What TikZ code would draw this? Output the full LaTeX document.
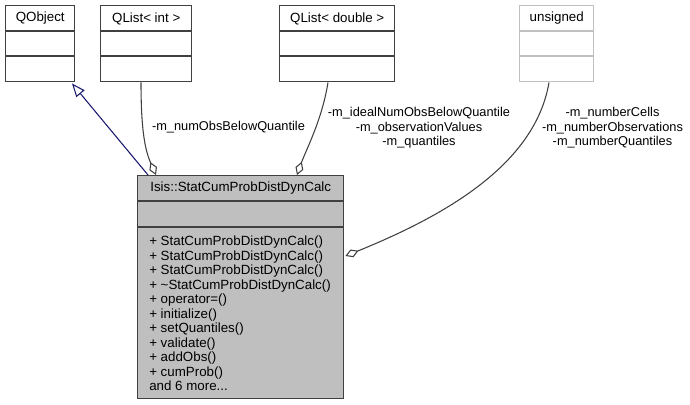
\documentclass[tikz,border=0pt]{standalone}
\usepackage{fontspec}
\setmainfont{Liberation Sans}
\usetikzlibrary{arrows.meta,calc}
\definecolor{edgegray}{HTML}{404040}
\definecolor{mainfill}{HTML}{BFBFBF}
\definecolor{navyedge}{HTML}{191970}
\definecolor{lightborder}{HTML}{C0C0C0}
\tikzset{
  classbox/.style={draw=edgegray, line width=1.1pt, inner sep=0pt, anchor=north west},
  divider/.style={draw=edgegray, line width=1.1pt},
  boxtext/.style={inner sep=0pt, font=\fontsize{10}{12}\selectfont},
  edgelabel/.style={inner sep=0pt, align=center, font=\fontsize{9.6}{10.9}\selectfont},
  inherit/.style={draw=navyedge, line width=0.8pt, -{Triangle[open, length=10pt, width=8pt, fill=white]}},
  member/.style={draw=edgegray, line width=0.8pt, -{Diamond[open, length=10.5pt, width=6.2pt, fill=white]}}
}
\begin{document}
\begin{tikzpicture}[x=0.75pt,y=-0.75pt]
\useasboundingbox (0,0) rectangle (690,404);

% QObject
\node[classbox, minimum width=51.75pt, minimum height=57pt] (qobject) at (5,5) {};
\draw[divider] ($(qobject.north west)+(0,26)$) -- ($(qobject.north east)+(0,26)$);
\draw[divider] ($(qobject.north west)+(0,51)$) -- ($(qobject.north east)+(0,51)$);
\node[boxtext] (qobject-title) at ($(qobject.north)+(0,13.5)$) {QObject};

% QList< int >
\node[classbox, minimum width=68.25pt, minimum height=57pt] (qlistint) at (100,5) {};
\draw[divider] ($(qlistint.north west)+(0,26)$) -- ($(qlistint.north east)+(0,26)$);
\draw[divider] ($(qlistint.north west)+(0,51)$) -- ($(qlistint.north east)+(0,51)$);
\node[boxtext] (qlistint-title) at ($(qlistint.north)+(0,13.5)$) {QList< int >};

% QList< double >
\node[classbox, minimum width=86.25pt, minimum height=57pt] (qlistdouble) at (279,5) {};
\draw[divider] ($(qlistdouble.north west)+(0,26)$) -- ($(qlistdouble.north east)+(0,26)$);
\draw[divider] ($(qlistdouble.north west)+(0,51)$) -- ($(qlistdouble.north east)+(0,51)$);
\node[boxtext] (qlistdouble-title) at ($(qlistdouble.north)+(0,13.5)$) {QList< double >};

% unsigned
\node[classbox, draw=lightborder, minimum width=55.5pt, minimum height=57pt] (unsigned) at (519,5) {};
\draw[divider, draw=lightborder] ($(unsigned.north west)+(0,26)$) -- ($(unsigned.north east)+(0,26)$);
\draw[divider, draw=lightborder] ($(unsigned.north west)+(0,51)$) -- ($(unsigned.north east)+(0,51)$);
\node[boxtext] (unsigned-title) at ($(unsigned.north)+(0,13.5)$) {unsigned};

% main class
\node[classbox, fill=mainfill, minimum width=154.5pt, minimum height=167.25pt] (main) at (137,175) {};
\draw[divider] ($(main.north west)+(0,26)$) -- ($(main.north east)+(0,26)$);
\draw[divider] ($(main.north west)+(0,52)$) -- ($(main.north east)+(0,52)$);
\node[boxtext] (main-title) at ($(main.north)+(0,13.5)$) {Isis::StatCumProbDistDynCalc};
\node[boxtext, anchor=west, align=left, font=\fontsize{10}{10.9}\selectfont] (main-methods) at ($(main.north west)+(12,138.5)$) {%
+ StatCumProbDistDynCalc()\\
+ StatCumProbDistDynCalc()\\
+ StatCumProbDistDynCalc()\\
+ \textasciitilde StatCumProbDistDynCalc()\\
+ operator=()\\
+ initialize()\\
+ setQuantiles()\\
+ validate()\\
+ addObs()\\
+ cumProb()\\
and 6 more...};

% edges
\draw[inherit] ($(main.north west)+(11,0)$) -- ($(qobject.south west)+(67,1)$);
\draw[member] ($(qlistint.south west)+(41,0)$) .. controls (141,130) and (145,150) .. ($(main.north west)+(19,0)$);
\draw[member] ($(qlistdouble.south west)+(49,0)$) .. controls (322,120) and (306,150) .. ($(main.north west)+(160,0)$);
\draw[member] ($(unsigned.south west)+(30,0)$) .. controls (535,165) and (444,216) .. ($(main.north east)+(1,81)$);

% labels
\node[edgelabel] (lbl-int) at (228.5,127) {-m\_numObsBelowQuantile};
\node[edgelabel] (lbl-double) at (419,128) {-m\_idealNumObsBelowQuantile\\-m\_observationValues\\-m\_quantiles};
\node[edgelabel] (lbl-unsigned) at (612.5,128) {-m\_numberCells\\-m\_numberObservations\\-m\_numberQuantiles};
\end{tikzpicture}
\end{document}
